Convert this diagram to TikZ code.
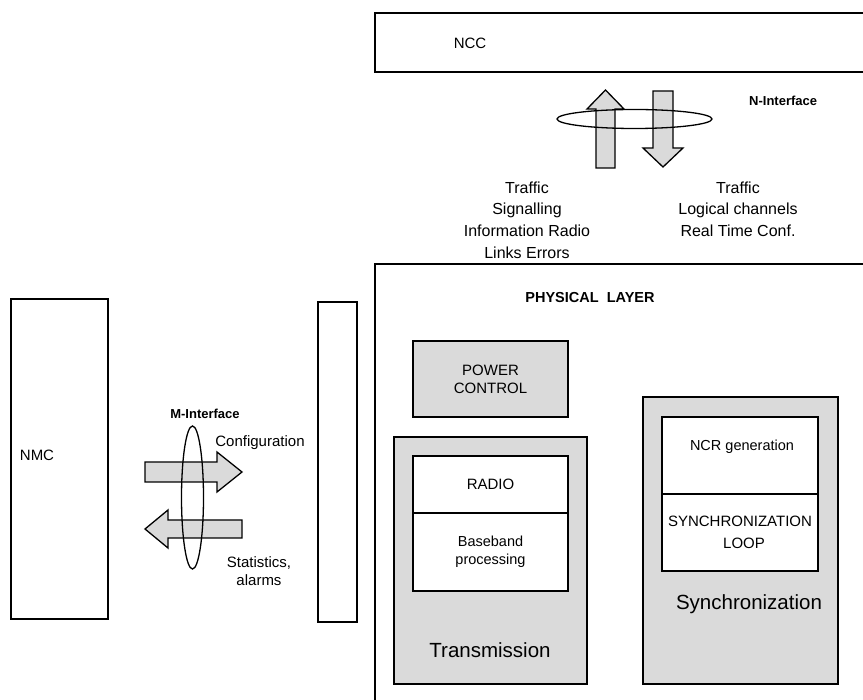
\documentclass[tikz,border=0pt]{standalone}
\usepackage{fontspec}
\setmainfont{Liberation Sans}
\usetikzlibrary{shapes.geometric}
\definecolor{panel}{HTML}{DADADA}
\tikzset{
  frame/.style={draw=black, line width=1.6pt},
  inner/.style={draw=black, line width=1.5pt, inner sep=0pt},
  shaded/.style={inner, fill=panel},
  blockarrow/.style={draw=black, line width=1.3pt, fill=panel, line join=miter},
  ring/.style={draw=black, line width=1.3pt},
  lbl/.style={inner sep=0pt, align=center, font=\fontsize{15}{18}\selectfont},
  biglbl/.style={inner sep=0pt, align=center, font=\fontsize{16}{21.7}\selectfont},
  huge lbl/.style={inner sep=0pt, align=center, font=\fontsize{20.5}{24}\selectfont},
  iface/.style={inner sep=0pt, font=\bfseries\fontsize{13}{15}\selectfont},
}
\begin{document}
\begin{tikzpicture}[x=1pt,y=-1pt]
\useasboundingbox (0,0) rectangle (863,700);
\clip (0,0) rectangle (863,700);

% Network control centre
\draw[frame] (375,13) rectangle (905,72);
\node[lbl] (ncc) at (470,43) {NCC};

% N interface: traffic up and down
\draw[blockarrow] (596,168) -- (596,109) -- (587,109) -- (605.5,90) -- (624,109) -- (615,109) -- (615,168) -- cycle;
\draw[blockarrow] (653,91) -- (673,91) -- (673,148) -- (683,148) -- (663,167) -- (643,148) -- (653,148) -- cycle;
\node[ring, ellipse, minimum width=155pt, minimum height=19pt, inner sep=0pt] (nring) at (634.5,119) {};
\node[iface, anchor=west] (nif) at (749,101) {N-Interface};
\node[biglbl] (upflow) at (527,220) {Traffic\\Signalling\\Information Radio\\Links Errors};
\node[biglbl] (downflow) at (738,209) {Traffic\\Logical channels\\Real Time Conf.};

% Network management centre and its interface
\node[frame, inner sep=0pt, minimum width=97pt, minimum height=320pt] (nmc) at (59.5,459) {};
\node[lbl] (nmctext) at (37,455) {NMC};
\node[frame, inner sep=0pt, minimum width=39pt, minimum height=320pt] (mport) at (337.5,462) {};

\draw[blockarrow] (145,462) -- (217,462) -- (217,452) -- (242,472) -- (217,492) -- (217,482) -- (145,482) -- cycle;
\draw[blockarrow] (242,520) -- (168,520) -- (168,510) -- (145,529) -- (168,548) -- (168,538) -- (242,538) -- cycle;
\node[ring, ellipse, minimum width=22pt, minimum height=143pt, inner sep=0pt] (mring) at (192.5,497.5) {};
\node[iface] (mif) at (205,414) {M-Interface};
\node[lbl] (config) at (260,443) {Configuration};
\node[lbl] (stats) at (259,571) {Statistics,\\alarms};

% Physical layer
\draw[frame] (375,264) rectangle (905,740);
\node[inner sep=0pt, font=\bfseries\fontsize{14.5}{17}\selectfont] (phy) at (590,298) {PHYSICAL\ \ LAYER};

\node[shaded, minimum width=155pt, minimum height=76pt, align=center, font=\fontsize{15}{18}\selectfont] (power) at (490.5,379) {POWER\\CONTROL};

% Transmission chain
\node[shaded, minimum width=193pt, minimum height=247pt] (tx) at (490.5,560.5) {};
\node[inner, fill=white, minimum width=155pt, minimum height=57pt, font=\fontsize{15}{18}\selectfont] (radio) at (490.5,484.5) {RADIO};
\node[inner, fill=white, minimum width=155pt, minimum height=78pt, align=center, font=\fontsize{14.5}{18}\selectfont] (bb) at (490.5,552) {Baseband\\processing};
\node[huge lbl] (txtext) at (490,650) {Transmission};

% Synchronization chain
\node[shaded, minimum width=195pt, minimum height=287pt] (sync) at (740.5,540.5) {};
\node[inner, fill=white, minimum width=156pt, minimum height=77pt] (ncr) at (740,455.5) {};
\node[lbl, font=\fontsize{14.5}{18}\selectfont] (ncrtext) at (742,447) {NCR generation};
\node[inner, fill=white, minimum width=156pt, minimum height=77pt, align=center, font=\fontsize{15}{22}\selectfont] (loop) at (740,532.5) {SYNCHRONIZATION\\\hspace*{8pt}LOOP};
\node[huge lbl] (synctext) at (749,604) {Synchronization};
\end{tikzpicture}
\end{document}
